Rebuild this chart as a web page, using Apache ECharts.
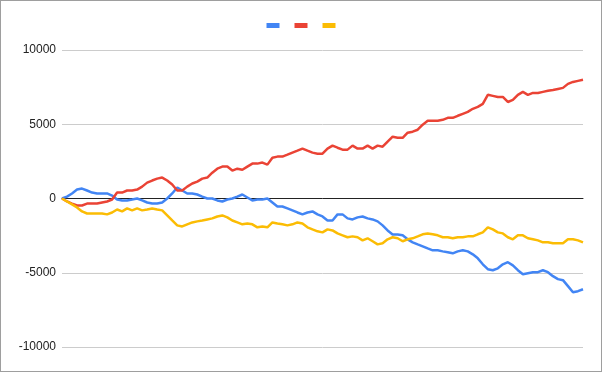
<!DOCTYPE html>
<html>
<head>
<meta charset="utf-8">
<script src="https://cdn.jsdelivr.net/npm/echarts@6/dist/echarts.min.js"></script>
<style>
html,body{margin:0;padding:0;background:#fff;}
#chart{width:602px;height:372px;position:absolute;left:0;top:0;}
#frame{position:absolute;left:0;top:0;width:602px;height:372px;box-sizing:border-box;border:1px solid #9e9e9e;pointer-events:none;}
</style>
</head>
<body>
<div id="chart"></div>
<div id="frame"></div>
<script>
const seriesNames = ['Series 1', 'Series 2', 'Series 3'];
const yTicks = [-10000, -5000, 0, 5000, 10000];

const blueValues = [0,130,340,600,670,540,400,340,340,340,
200,-70,-130,-130,-70,0,-130,-270,-340,-340,
-270,0,340,740,540,340,340,270,130,0,
0,-130,-200,-70,0,130,270,70,-130,-70,
-70,0,-270,-540,-540,-670,-800,-940,-1070,-940,
-870,-1070,-1210,-1480,-1480,-1070,-1070,-1340,-1410,-1270,
-1210,-1340,-1410,-1540,-1810,-2150,-2420,-2420,-2480,-2750,
-2950,-3090,-3220,-3360,-3490,-3490,-3560,-3620,-3690,-3560,
-3490,-3560,-3760,-4030,-4430,-4760,-4830,-4700,-4430,-4290,
-4500,-4830,-5100,-5030,-4960,-4960,-4830,-4960,-5230,-5430,
-5500,-5900,-6310,-6240,-6110];

const redValues = [0,-200,-340,-470,-470,-340,-340,-340,-270,-200,
-70,400,400,540,540,600,800,1070,1210,1340,
1410,1210,940,540,540,800,1010,1140,1340,1410,
1740,2010,2150,2150,1880,2010,1940,2150,2350,2350,
2420,2280,2750,2820,2820,2950,3090,3220,3360,3220,
3090,3020,3020,3360,3560,3420,3290,3290,3560,3360,
3360,3560,3360,3560,3490,3830,4160,4090,4090,4430,
4500,4630,4970,5230,5230,5230,5300,5430,5430,5570,
5700,5830,6040,6170,6370,6980,6910,6840,6840,6500,
6640,6980,7180,6980,7110,7110,7180,7250,7310,7380,
7450,7720,7850,7920,7990];

const yellowValues = [0,-200,-400,-600,-870,-1010,-1010,-1010,-1010,-1070,
-940,-740,-870,-670,-800,-670,-800,-740,-670,-740,
-800,-1140,-1480,-1810,-1880,-1740,-1610,-1540,-1480,-1410,
-1340,-1210,-1140,-1270,-1480,-1610,-1740,-1680,-1740,-1940,
-1880,-1940,-1610,-1680,-1740,-1810,-1740,-1610,-1680,-1940,
-2080,-2210,-2280,-2080,-2150,-2350,-2480,-2610,-2550,-2610,
-2820,-2680,-2880,-3090,-3020,-2750,-2610,-2680,-2880,-2750,
-2680,-2550,-2410,-2350,-2410,-2480,-2610,-2610,-2680,-2610,
-2610,-2550,-2550,-2410,-2280,-1940,-2080,-2280,-2350,-2610,
-2750,-2480,-2480,-2680,-2750,-2820,-2950,-2950,-3020,-3020,
-3020,-2750,-2750,-2820,-2950];

const categories = blueValues.map((_, i) => i + 1);
const colors = ['#4285F4', '#EA4335', '#FBBC04'];
const allValues = [blueValues, redValues, yellowValues];

const chart = echarts.init(document.getElementById('chart'), null, {renderer: 'canvas'});
chart.setOption({
  animation: false,
  color: colors,
  textStyle: {fontFamily: '"Liberation Sans", Arial, sans-serif'},
  legend: {
    top: 18,
    left: 'center',
    icon: 'rect',
    itemWidth: 13,
    itemHeight: 5,
    itemGap: 15,
    formatter: () => '',
    data: seriesNames
  },
  grid: {left: 62, right: 19, top: 50, bottom: 25, containLabel: false},
  xAxis: {
    type: 'category',
    data: categories,
    boundaryGap: false,
    axisLine: {lineStyle: {color: '#222', width: 1}},
    axisTick: {show: false},
    axisLabel: {show: false},
    splitLine: {show: false}
  },
  yAxis: {
    type: 'value',
    min: yTicks[0],
    max: yTicks[yTicks.length - 1],
    interval: 5000,
    axisLine: {show: false},
    axisTick: {show: false},
    axisLabel: {color: '#222', fontSize: 12, margin: 6, formatter: v => String(v)},
    splitLine: {lineStyle: {color: '#cccccc', width: 1}}
  },
  series: seriesNames.map((n, i) => ({
    name: n,
    type: 'line',
    data: allValues[i],
    showSymbol: false,
    symbol: 'none',
    lineStyle: {width: 2.5, color: colors[i]},
    z: 3 + i
  }))
});
</script>
</body>
</html>
